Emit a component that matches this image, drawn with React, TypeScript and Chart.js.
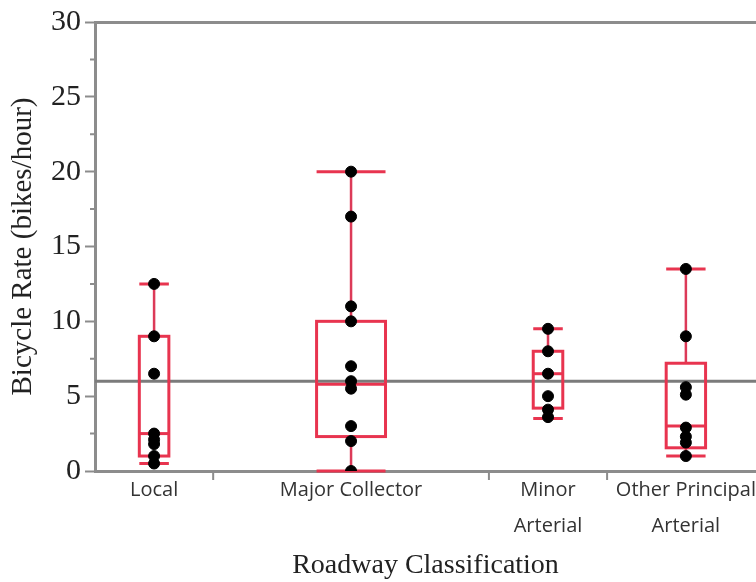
import React, { useEffect, useRef } from 'react';
import { Chart, registerables } from 'chart.js';

Chart.register(...registerables);

// ---- data ----
const categories: string[][] = [['Local'], ['Major Collector'], ['Minor', 'Arterial'], ['Other Principal', 'Arterial']];
const localPoints = [12.5, 9, 6.5, 2.5, 2.1, 1.8, 1.0, 0.5];
const majorCollectorPoints = [20, 17, 11, 10, 7, 6, 5.5, 3, 2, 0];
const minorArterialPoints = [9.5, 8, 6.5, 5, 4.1, 3.6];
const otherPrincipalPoints = [13.5, 9, 5.6, 5.1, 2.9, 2.3, 1.9, 1.0];
const whiskerLow = [0.5, 0, 3.5, 1.0];
const quartile1 = [1.0, 2.3, 4.2, 1.55];
const medians = [2.5, 5.8, 6.5, 3.0];
const quartile3 = [9.0, 10.0, 8.0, 7.2];
const whiskerHigh = [12.5, 20, 9.5, 13.5];
const grandMean = 6;
const yTickValues = [0, 5, 10, 15, 20, 25, 30];
const yMinorTickValues = [2.5, 7.5, 12.5, 17.5, 22.5, 27.5];

// ---- layout (relative category widths, JMP-style) ----
const categoryWeights = [3, 7, 3, 4];
const visibleExtent = 16.78;
const boxFraction = 0.25;

const boundaries: number[] = [];
const centers: number[] = [];
{
  let acc = 0;
  categoryWeights.forEach((w) => {
    centers.push(acc + w / 2);
    acc += w;
    boundaries.push(acc);
  });
}
const groups = [localPoints, majorCollectorPoints, minorArterialPoints, otherPrincipalPoints];

const AXIS = '#8c8c8c';
const BOX = '#e8344f';
const WHISKER = '#dc3a58';

const boxPlugin = {
  id: 'boxPlugin',
  beforeDatasetsDraw(chart: any) {
    const { ctx, chartArea, scales } = chart;
    const x = scales.x;
    const y = scales.y;
    ctx.save();
    // grand mean line
    const ym = y.getPixelForValue(grandMean);
    ctx.strokeStyle = '#7b7b7b';
    ctx.lineWidth = 3;
    ctx.beginPath();
    ctx.moveTo(chartArea.left, ym);
    ctx.lineTo(chartArea.right, ym);
    ctx.stroke();

    categoryWeights.forEach((w, i) => {
      const cx = x.getPixelForValue(centers[i]);
      const half = x.getPixelForValue(centers[i] + (w * boxFraction) / 2) - cx;
      const yLo = y.getPixelForValue(whiskerLow[i]);
      const yQ1 = y.getPixelForValue(quartile1[i]);
      const yMed = y.getPixelForValue(medians[i]);
      const yQ3 = y.getPixelForValue(quartile3[i]);
      const yHi = y.getPixelForValue(whiskerHigh[i]);
      // whiskers
      ctx.strokeStyle = WHISKER;
      ctx.lineWidth = 2.5;
      ctx.beginPath();
      ctx.moveTo(cx, yQ3);
      ctx.lineTo(cx, yHi);
      ctx.moveTo(cx, yQ1);
      ctx.lineTo(cx, yLo);
      ctx.stroke();
      // caps
      ctx.strokeStyle = BOX;
      ctx.lineWidth = 3;
      ctx.beginPath();
      ctx.moveTo(cx - half, yHi);
      ctx.lineTo(cx + half, yHi);
      ctx.moveTo(cx - half, yLo);
      ctx.lineTo(cx + half, yLo);
      ctx.stroke();
      // box
      ctx.strokeRect(cx - half, yQ3, half * 2, yQ1 - yQ3);
      // median
      ctx.beginPath();
      ctx.moveTo(cx - half, yMed);
      ctx.lineTo(cx + half, yMed);
      ctx.stroke();
    });
    ctx.restore();
  },
  afterDraw(chart: any) {
    const { ctx, chartArea, scales } = chart;
    const x = scales.x;
    const y = scales.y;
    ctx.save();
    ctx.strokeStyle = AXIS;
    ctx.lineWidth = 2;
    ctx.beginPath();
    boundaries.slice(0, -1).forEach((b) => {
      const px = x.getPixelForValue(b);
      ctx.moveTo(px, chartArea.bottom);
      ctx.lineTo(px, chartArea.bottom + 9);
    });
    yMinorTickValues.forEach((v) => {
      const py = y.getPixelForValue(v);
      ctx.moveTo(chartArea.left - 5, py);
      ctx.lineTo(chartArea.left, py);
    });
    ctx.stroke();
    ctx.restore();
  },
};

export default function App() {
  const ref = useRef<HTMLCanvasElement | null>(null);
  useEffect(() => {
    if (!ref.current) return;
    const chart = new Chart(ref.current, {
      type: 'scatter',
      data: {
        datasets: [
          {
            data: groups.flatMap((pts, i) => pts.map((v) => ({ x: centers[i], y: v }))),
            backgroundColor: '#000',
            borderColor: '#000',
            pointRadius: 5.5,
            pointHoverRadius: 5.5,
          },
        ],
      },
      options: {
        animation: false,
        responsive: true,
        maintainAspectRatio: false,
        layout: { autoPadding: false, padding: { top: 22, left: 0, right: 0, bottom: 0 } },
        plugins: { legend: { display: false }, tooltip: { enabled: false } },
        scales: {
          x: {
            type: 'linear',
            min: 0,
            max: visibleExtent,
            afterBuildTicks: (s: any) => {
              s.ticks = centers.map((c) => ({ value: c }));
            },
            afterFit: (s: any) => {
              s.height = 111;
              s.paddingLeft = 0;
              s.paddingRight = 0;
            },
            ticks: {
              autoSkip: false,
              maxRotation: 0,
              minRotation: 0,
              padding: 1,
              color: '#333',
              font: { family: 'Open Sans', size: 20, lineHeight: 1.8 },
              callback: (_v: any, i: number) => categories[i],
            },
            grid: { display: false, drawTicks: false },
            border: { display: true, color: AXIS, width: 3 },
            title: {
              display: true,
              text: 'Roadway Classification',
              color: '#222',
              font: { family: 'Liberation Serif', size: 28 },
              padding: { top: 0, bottom: 0 },
            },
          },
          y: {
            type: 'linear',
            min: 0,
            max: 30,
            afterBuildTicks: (s: any) => {
              s.ticks = yTickValues.map((v) => ({ value: v }));
            },
            afterFit: (s: any) => {
              s.width = 95;
            },
            ticks: {
              padding: 4,
              color: '#222',
              font: { family: 'Liberation Serif', size: 30 },
            },
            grid: {
              drawOnChartArea: true,
              color: (c: any) => (c.tick && c.tick.value === 30 ? AXIS : 'rgba(0,0,0,0)'),
              lineWidth: 3,
              tickColor: AXIS,
              tickLength: 10,
              tickWidth: 2,
            },
            border: { display: true, color: AXIS, width: 3 },
            title: {
              display: true,
              text: 'Bicycle Rate (bikes/hour)',
              color: '#222',
              font: { family: 'Liberation Serif', size: 29 },
              padding: { top: 6, bottom: 0 },
            },
          },
        },
      },
      plugins: [boxPlugin],
    });
    return () => chart.destroy();
  }, []);
  return (
    <div style={{ position: 'absolute', left: 0, top: 0, width: 756, height: 582, background: '#fff' }}>
      <canvas ref={ref} />
    </div>
  );
}
